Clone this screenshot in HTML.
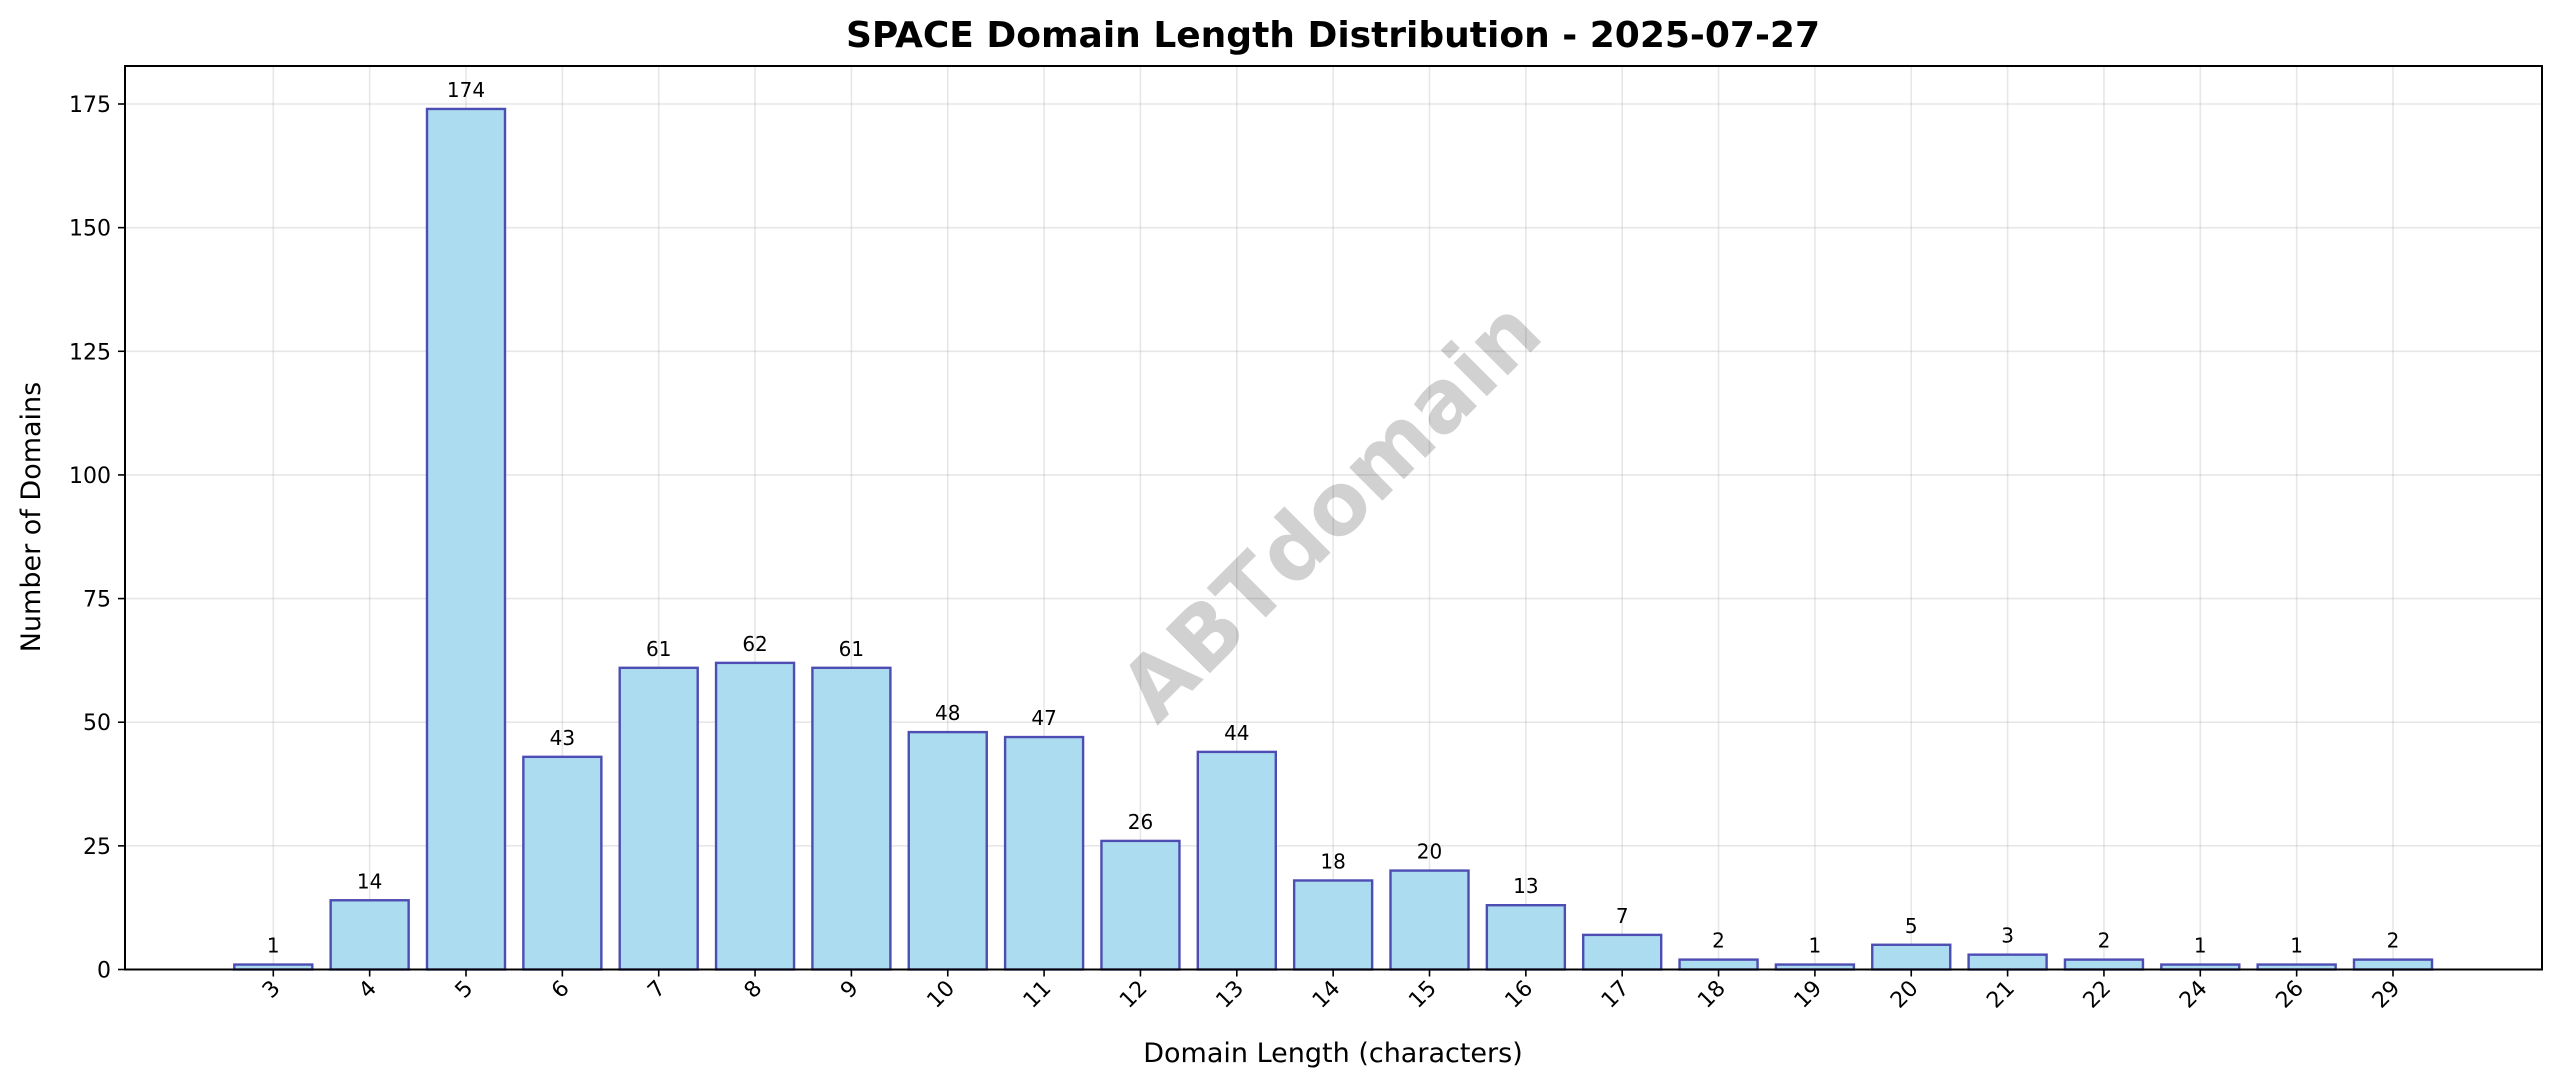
<!DOCTYPE html>
<html><head><meta charset="utf-8"><style>
html,body{margin:0;padding:0;background:#fff}
svg{display:block;font-family:"DejaVu Sans","Liberation Sans",sans-serif}
</style></head><body>
<svg id="chart" width="2560" height="1087" viewBox="0 0 2560 1087" xmlns="http://www.w3.org/2000/svg">
<rect width="2560" height="1087" fill="#fff"/>
<text x="1333" y="47" text-anchor="middle" font-size="36" font-weight="bold">SPACE Domain Length Distribution - 2025-07-27</text>
<g id="grid"></g>
<text x="1335" y="515" text-anchor="middle" dominant-baseline="middle" font-size="86" font-weight="bold" fill="#000" fill-opacity="0.18" transform="rotate(-45 1335 515)">ABTdomain</text>
<g id="bars"></g>
<g id="axes"></g>
<text x="1333" y="1062" text-anchor="middle" font-size="27">Domain Length (characters)</text>
<text x="0" y="0" text-anchor="middle" font-size="27" transform="translate(40 517) rotate(-90)">Number of Domains</text>
</svg>
<script>
const categories = ["3","4","5","6","7","8","9","10","11","12","13","14","15","16","17","18","19","20","21","22","24","26","29"];
const counts = [1,14,174,43,61,62,61,48,47,26,44,18,20,13,7,2,1,5,3,2,1,1,2];
const yTicks = [0,25,50,75,100,125,150,175];

const NS = "http://www.w3.org/2000/svg";
const L = 125, R = 2542, T = 66, B = 969.5;
const x0 = 273.3, step = 96.35, barW = 78;
const yPer = (B - 104) / 175;
function xPos(i){ return x0 + i * step; }
function yPos(v){ return B - v * yPer; }
function mk(tag, attrs, parent){
  const e = document.createElementNS(NS, tag);
  for (const k in attrs) e.setAttribute(k, attrs[k]);
  parent.appendChild(e);
  return e;
}
const grid = document.getElementById('grid');
const bars = document.getElementById('bars');
const axes = document.getElementById('axes');

yTicks.forEach(v => {
  const g = mk('line', {x1:L, x2:R, y1:yPos(v), y2:yPos(v), stroke:'#b0b0b0', 'stroke-opacity':0.3, 'stroke-width':1.6}, grid);
  
  
  const t = mk('line', {x1:L-7, x2:L, y1:yPos(v), y2:yPos(v), stroke:'#000', 'stroke-width':1.6}, axes);
  
  
  const lb = mk('text', {x:L-14, y:yPos(v)+8, 'text-anchor':'end', 'font-size':22}, axes);
  lb.textContent = v;
  
  
});

categories.forEach((c, i) => {
  const x = xPos(i);
  const g = mk('line', {x1:x, x2:x, y1:T, y2:B, stroke:'#b0b0b0', 'stroke-opacity':0.3, 'stroke-width':1.6}, grid);
  
  
  const v = counts[i];
  const r = mk('rect', {x:x-barW/2, y:yPos(v), width:barW, height:B-yPos(v), fill:'#abdcef', stroke:'#4d4db3', 'stroke-width':2.4}, bars);
  
  
  const vl = mk('text', {x:x, y:yPos(v)-12, 'text-anchor':'middle', 'font-size':20}, bars);
  vl.textContent = v;
  
  
  const t = mk('line', {x1:x, x2:x, y1:B, y2:B+7, stroke:'#000', 'stroke-width':1.6}, axes);
  
  
  const lb = mk('text', {x:0, y:0, 'text-anchor':'end', 'font-size':22, transform:`translate(${x+8} ${B+20}) rotate(-45)`}, axes);
  lb.textContent = c;
  
  
});

const frame = mk('rect', {x:L, y:T, width:R-L, height:B-T, fill:'none', stroke:'#000', 'stroke-width':2}, axes);


</script>
</body></html>
